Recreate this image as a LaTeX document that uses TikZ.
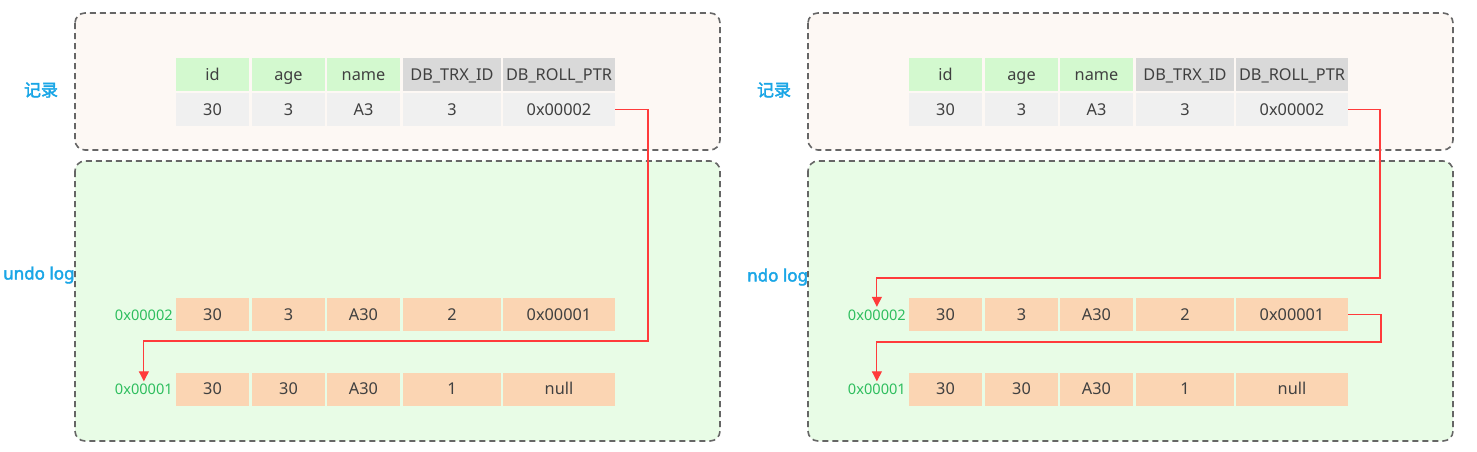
\documentclass[tikz,border=0pt]{standalone}
\usepackage{fontspec}
\setmainfont{Noto Sans}
\newfontfamily\cjk{Noto Sans CJK SC}[FakeBold=2.5]
\newfontfamily\lblfont{Noto Sans}[FakeBold=2.5]
\usetikzlibrary{arrows.meta}
\definecolor{topfill}{HTML}{FDF8F4}
\definecolor{botfill}{HTML}{E8FCE6}
\definecolor{frame}{HTML}{666666}
\definecolor{hdrgreen}{HTML}{D3F9CF}
\definecolor{hdrgray}{HTML}{D9D9D9}
\definecolor{datagray}{HTML}{F0F0F0}
\definecolor{peach}{HTML}{FBD5B3}
\definecolor{txt}{HTML}{404040}
\definecolor{addr}{HTML}{2EBE5E}
\definecolor{ptrred}{HTML}{FF3B3B}
\definecolor{lblblue}{HTML}{1AA6E6}
\tikzset{
  panel/.style={draw=frame, line width=1.6pt, dash pattern=on 6pt off 4pt, rounded corners=10pt},
  cell/.style={inner sep=0pt, minimum height=33pt, text height=12.5pt, text depth=1pt, text=txt, font=\fontsize{16.3}{19}\selectfont},
  addrlbl/.style={inner sep=1pt, text height=12pt, text depth=1pt, text=addr, font=\fontsize{14.6}{17}\selectfont, anchor=east},
  sidelbl/.style={inner sep=0pt, text=lblblue, font=\fontsize{17}{20}\selectfont},
  ptr/.style={draw=ptrred, line width=1.1pt, -{Triangle[width=10pt,length=10pt]}}
}
\begin{document}
\begin{tikzpicture}[x=1pt,y=-1pt]
\useasboundingbox (0,0) rectangle (1477,451);
\foreach \p/\ox in {L/0,R/733}{
  \begin{scope}[xshift=\ox pt]
  \fill[topfill, rounded corners=10pt] (75,13) rectangle (720,150);
  \draw[panel] (75,13) rectangle (720,150);
  \fill[botfill, rounded corners=10pt] (75,161) rectangle (720,441);
  \draw[panel] (75,161) rectangle (720,441);
  % header
  \node[cell, fill=hdrgreen, minimum width=73pt] (\p-h1) at (212.5,74.5) {id};
  \node[cell, fill=hdrgreen, minimum width=73pt] (\p-h2) at (288.5,74.5) {age};
  \node[cell, fill=hdrgreen, minimum width=73pt] (\p-h3) at (363.5,74.5) {name};
  \node[cell, fill=hdrgray, minimum width=98pt] (\p-h4) at (452,74.5) {DB\_TRX\_ID};
  \node[cell, fill=hdrgray, minimum width=112pt] (\p-h5) at (559,74.5) {DB\_ROLL\_PTR};
  % data
  \node[cell, fill=datagray, minimum width=73pt] (\p-d1) at (212.5,109.5) {30};
  \node[cell, fill=datagray, minimum width=73pt] (\p-d2) at (288.5,109.5) {3};
  \node[cell, fill=datagray, minimum width=73pt] (\p-d3) at (363.5,109.5) {A3};
  \node[cell, fill=datagray, minimum width=98pt] (\p-d4) at (452,109.5) {3};
  \node[cell, fill=datagray, minimum width=112pt] (\p-d5) at (559,109.5) {0x00002};
  % undo row 1
  \node[cell, fill=peach, minimum width=73pt] (\p-u11) at (212.5,314.5) {30};
  \node[cell, fill=peach, minimum width=73pt] (\p-u12) at (288.5,314.5) {3};
  \node[cell, fill=peach, minimum width=73pt] (\p-u13) at (363.5,314.5) {A30};
  \node[cell, fill=peach, minimum width=98pt] (\p-u14) at (452,314.5) {2};
  \node[cell, fill=peach, minimum width=112pt] (\p-u15) at (559,314.5) {0x00001};
  % undo row 2
  \node[cell, fill=peach, minimum width=73pt] (\p-u21) at (212.5,389) {30};
  \node[cell, fill=peach, minimum width=73pt] (\p-u22) at (288.5,389) {30};
  \node[cell, fill=peach, minimum width=73pt] (\p-u23) at (363.5,389) {A30};
  \node[cell, fill=peach, minimum width=98pt] (\p-u24) at (452,389) {1};
  \node[cell, fill=peach, minimum width=112pt] (\p-u25) at (559,389) {null};
  % address labels
  \node[addrlbl] (\p-a2) at (174,314.5) {0x00002};
  \node[addrlbl] (\p-a1) at (174,389) {0x00001};
  \end{scope}
}
% side labels
\node[sidelbl] (L-rec) at (41,90) {\cjk 记录};
\node[sidelbl, anchor=west] (L-undo) at (3,275) {\lblfont undo log};
\node[sidelbl] (R-rec) at (774,90) {\cjk 记录};
\node[sidelbl, anchor=west] (R-undo) at (747,277) {\lblfont ndo log};
% pointers
\coordinate (L-turn) at (648,341);
\draw[ptr] (L-d5.east) -| (L-turn) -| (L-a1.north);
\coordinate (R-turn1) at (1380,278);
\draw[ptr] (R-d5.east) -| (R-turn1) -| (R-a2.north);
\coordinate (R-turn2) at (1381,342);
\draw[ptr] (R-u15.east) -| (R-turn2) -| (R-a1.north);
\end{tikzpicture}
\end{document}
